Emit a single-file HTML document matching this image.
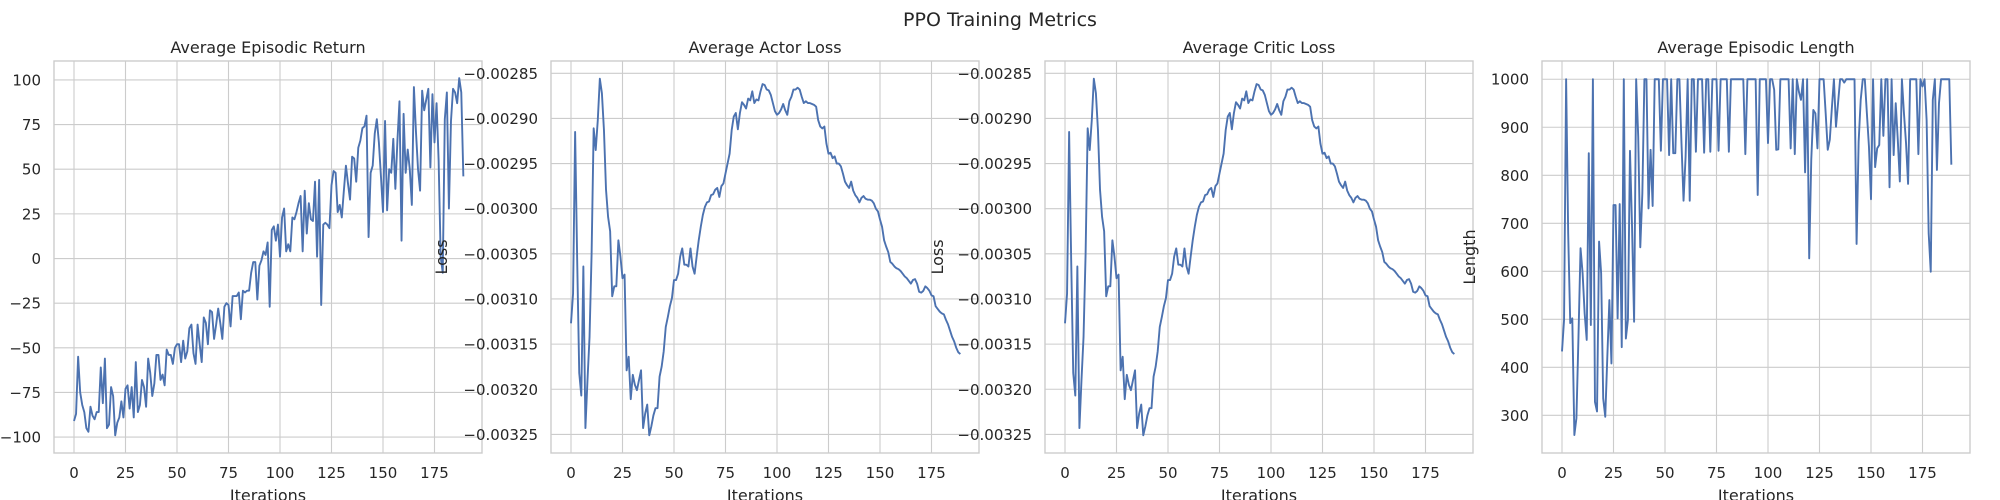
<!DOCTYPE html>
<html><head><meta charset="utf-8"><style>
html,body{margin:0;padding:0;background:#fff;}
svg{display:block;font-family:"DejaVu Sans","Liberation Sans",sans-serif;}
</style></head><body>
<svg id="chart" width="2000" height="500" viewBox="0 0 2000 500" xmlns="http://www.w3.org/2000/svg">
<rect width="2000" height="500" fill="#fff"/>
<text x="1000" y="26" font-size="19" fill="#262626" text-anchor="middle">PPO Training Metrics</text>
</svg>
<script>
const returnValues=[-91,-87,-55,-75,-82,-86,-95,-97,-83,-88,-90,-86,-86,-61,-81,-56,-95,-93,-72,-77,-99,-92,-89,-80,-89,-73,-71,-84,-72,-89,-58,-86,-82,-68,-72,-83,-56,-64,-77,-70,-54,-54,-68,-65,-71,-51,-54,-54,-59,-50,-48,-48,-58,-46,-56,-52,-39,-37,-53,-59,-37,-48,-58,-33,-36,-48,-29,-30,-45,-37,-28,-36,-45,-27,-25,-26,-38,-21,-21,-21,-19,-34,-18,-19,-18,-18,-8,-2,-2,-23,-4,-1,4,2,9,-27,16,18,10,19,1,23,28,4,8,4,23,22,26,31,35,4,38,14,31,22,21,43,1,44,-26,19,20,19,17,41,49,48,26,30,23,38,52,42,33,57,56,43,62,66,73,74,80,12,48,52,70,78,65,46,26,77,27,50,48,67,39,66,88,10,81,48,61,50,30,96,71,50,38,94,83,89,95,51,92,65,87,55,1,-8,78,93,28,77,95,93,87,101,93,46];
const lossValues=[-312.7,-309.4,-291.5,-305.7,-318.2,-320.7,-306.4,-324.3,-319,-314.2,-305,-291.1,-293.5,-290.2,-285.6,-287.2,-291.3,-297.9,-300.9,-302.5,-309.7,-308.6,-308.6,-303.5,-305.3,-307.7,-307.3,-317.9,-316.4,-321.1,-318.4,-319.5,-320.1,-319,-317.9,-324.3,-322.7,-321.7,-325.1,-324.1,-322.9,-322.1,-322.1,-318.6,-317.5,-315.8,-313.1,-312,-310.8,-309.9,-307.9,-307.9,-307.2,-305.3,-304.4,-306.2,-306.2,-306.4,-304.4,-306.4,-307.2,-305.3,-303.5,-302,-300.7,-299.8,-299.3,-299.2,-298.5,-298.4,-297.9,-297.7,-298.7,-297.5,-297.2,-296.1,-295,-293.9,-291.3,-289.8,-289.4,-291.2,-289.4,-288.2,-288.5,-288.9,-287.8,-288,-287,-288.3,-287.9,-288,-287,-286.2,-286.3,-286.8,-286.9,-287.4,-288.3,-289.2,-289.6,-289.4,-289,-288.4,-289.1,-289.6,-288.1,-287.6,-286.8,-286.8,-286.6,-286.8,-287.6,-288.3,-288.1,-288.3,-288.3,-288.4,-288.5,-288.7,-290.2,-290.9,-291.1,-290.9,-292.8,-293.9,-293.8,-294.4,-294.2,-295,-295,-295.3,-296.1,-297,-297.4,-297.7,-297,-298,-298.5,-298.8,-299.3,-298.8,-298.6,-298.9,-299,-299,-299.1,-299.4,-300,-300.3,-301.2,-302,-303.5,-304.2,-304.8,-305.9,-306.1,-306.4,-306.6,-306.7,-306.9,-307.2,-307.5,-307.7,-308,-308.3,-307.9,-307.8,-308.3,-309.2,-309.3,-309.1,-308.6,-308.8,-309.1,-309.6,-309.7,-310.8,-311.1,-311.4,-311.6,-311.7,-312.3,-312.8,-313.5,-314.2,-314.7,-315.4,-315.9,-316.1];
const lengthValues=[433,499,1000,679,492,502,259,294,464,648,596,512,457,846,488,1000,328,308,662,596,335,297,422,540,408,738,738,502,740,442,1000,460,499,851,693,495,1000,880,650,762,1000,1000,731,853,736,1000,1000,1000,851,1000,1000,1000,842,1000,846,846,1000,1000,867,747,839,1000,747,1000,1000,849,1000,1000,1000,847,1000,1000,849,1000,1000,1000,851,1000,1000,1000,1000,849,1000,1000,1000,1000,1000,1000,1000,844,1000,1000,1000,1000,1000,759,1000,1000,1000,1000,867,1000,1000,978,853,854,1000,1000,1000,1000,1000,856,1000,844,1000,974,957,1000,806,1000,627,832,936,929,856,1000,1000,1000,929,853,874,940,1000,901,950,1000,1000,993,1000,1000,1000,1000,1000,657,870,957,1000,1000,929,860,750,1000,817,856,863,1000,882,1000,1000,775,1000,842,950,874,787,1000,929,867,782,1000,1000,1000,1000,844,1000,985,1000,915,679,599,957,1000,811,950,1000,1000,1000,1000,1000,822];
const xTicks=[0,25,50,75,100,125,150,175];
const returnTicks=[-100,-75,-50,-25,0,25,50,75,100];
const lossTicks=[-325,-320,-315,-310,-305,-300,-295,-290,-285];
const lengthTicks=[300,400,500,600,700,800,900,1000];
const panelTitles=["Average Episodic Return","Average Actor Loss","Average Critic Loss","Average Episodic Length"];

const NS="http://www.w3.org/2000/svg";
const svg=document.getElementById('chart');
function mk(tag,attrs,parent){const e=document.createElementNS(NS,tag);for(const k in attrs)e.setAttribute(k,attrs[k]);(parent||svg).appendChild(e);return e;}
const TOP=61,BOT=453,W=428;
function fmtLoss(v){return '\u2212'+(Math.abs(v)/100000).toFixed(5);}
function fmtInt(v){return v<0?'\u2212'+Math.abs(v):String(v);}
const panels=[
 {left:54,values:returnValues,ticks:returnTicks,ymin:-108.9,ymax:110.6,fmt:fmtInt,ylabel:null,key:'return'},
 {left:551,values:lossValues,ticks:lossTicks,ymin:-327.06,ymax:-283.64,fmt:fmtLoss,ylabel:'Loss',yl:-104,key:'actor-loss'},
 {left:1045,values:lossValues,ticks:lossTicks,ymin:-327.06,ymax:-283.64,fmt:fmtLoss,ylabel:'Loss',yl:-102,key:'critic-loss'},
 {left:1542,values:lengthValues,ticks:lengthTicks,ymin:221.5,ymax:1038,fmt:fmtInt,ylabel:'Length',yl:-67,key:'length'}
];
panels.forEach((p,pi)=>{
  const g=mk('g',{});
  
  
  const xs=v=>p.left+20+v*2.06;
  const ys=v=>BOT-(v-p.ymin)/(p.ymax-p.ymin)*(BOT-TOP);
  xTicks.forEach(t=>{
    const l=mk('line',{x1:xs(t),x2:xs(t),y1:TOP,y2:BOT,stroke:'#cccccc','stroke-width':1.1},g);
    
    
    const tx=mk('text',{x:xs(t),y:478,'font-size':15,fill:'#262626','text-anchor':'middle'},g);
    
    
    tx.textContent=t;
  });
  p.ticks.forEach(t=>{
    const y=ys(t);
    const l=mk('line',{x1:p.left,x2:p.left+W,y1:y,y2:y,stroke:'#cccccc','stroke-width':1.1},g);
    
    
    const tx=mk('text',{x:p.left-13,y:y+5.5,'font-size':15,fill:'#262626','text-anchor':'end'},g);
    
    
    tx.textContent=p.fmt(t);
  });
  const d=p.values.map((v,i)=>(i?'L':'M')+xs(i).toFixed(2)+' '+ys(v).toFixed(2)).join(' ');
  const path=mk('path',{d:d,fill:'none',stroke:'#4c72b0','stroke-width':1.9,'stroke-linejoin':'round'},g);
  
  
  const fr=mk('rect',{x:p.left,y:TOP,width:W,height:BOT-TOP,fill:'none',stroke:'#cccccc','stroke-width':1.4},g);
  
  
  const ti=mk('text',{x:p.left+W/2,y:53,'font-size':16,fill:'#262626','text-anchor':'middle'},g);
  
  
  ti.textContent=panelTitles[pi];
  const xl=mk('text',{x:p.left+W/2,y:501,'font-size':16,fill:'#262626','text-anchor':'middle'},g);
  
  
  xl.textContent='Iterations';
  if(p.ylabel){
    const cx=p.left+p.yl, cy=257;
    const yl=mk('text',{x:cx,y:cy,'font-size':16,fill:'#262626','text-anchor':'middle',transform:'rotate(-90 '+cx+' '+cy+')'},g);
    
    
    yl.textContent=p.ylabel;
  }
});
</script>
</body></html>
